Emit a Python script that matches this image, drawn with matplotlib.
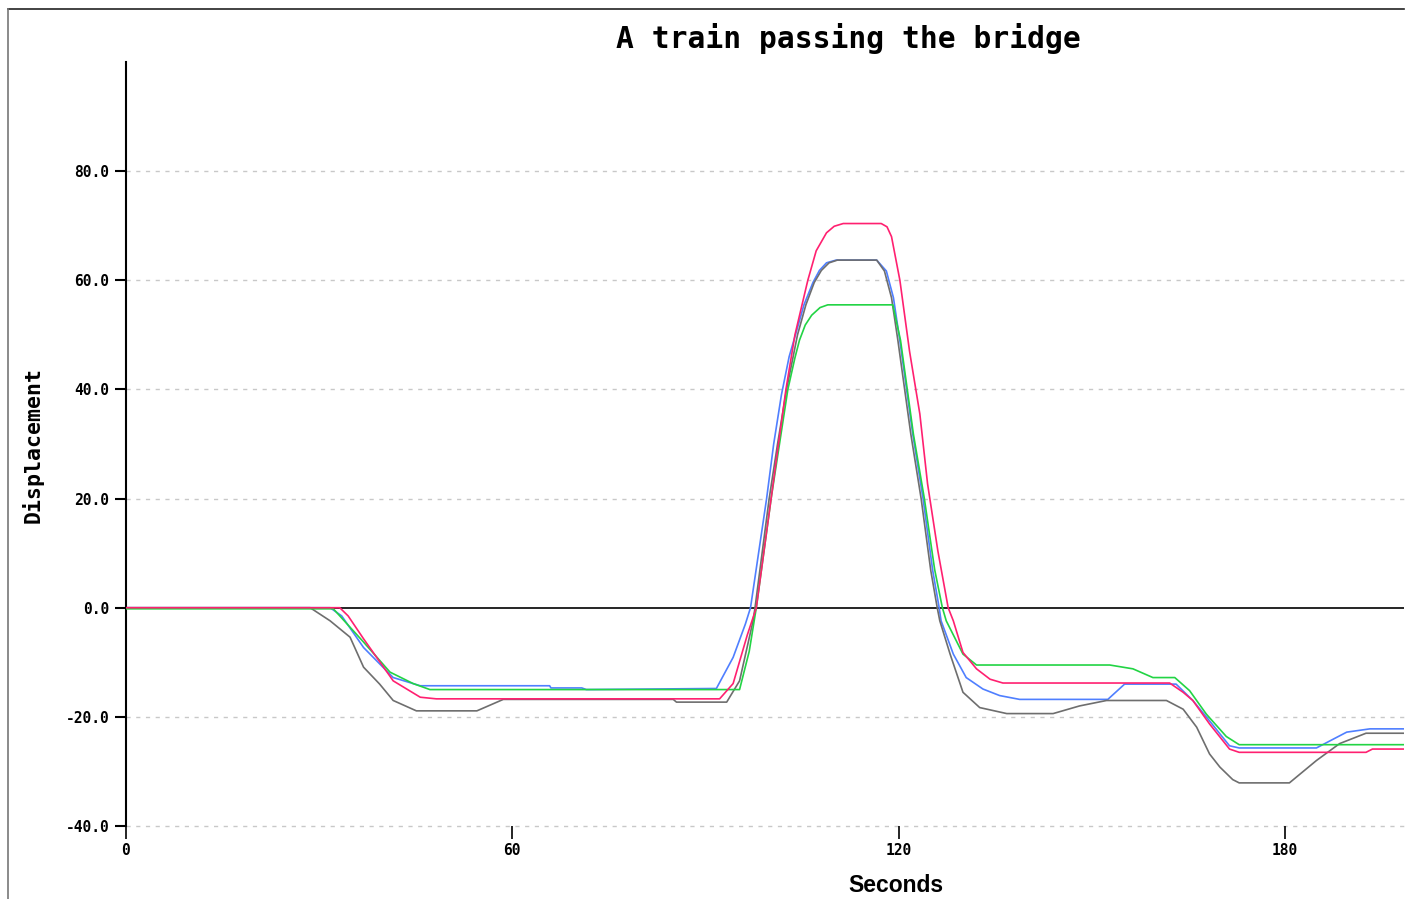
import numpy as np
import matplotlib.pyplot as plt
from matplotlib.lines import Line2D

# breakpoints (seconds, displacement)
blue_t = [0, 31.7, 33.5, 36.9, 41.5, 45.7, 65.8, 66.0, 70.8, 71.5, 91.7, 94.3, 96.2, 97.0,
          99.5, 100.6, 101.8, 103.0, 104.1, 105.3, 106.7, 107.7, 108.8, 110.3, 116.6, 118.1,
          119.2, 120.2, 122.2, 123.8, 125.3, 126.3, 126.6, 128.5, 130.5, 133.1, 135.7, 138.8,
          152.5, 155.1, 163.1, 165.7, 167.8, 169.9, 171.4, 172.9, 184.9, 187.0, 189.6, 193.2,
          198.5]
blue_v = [0, 0, -1.5, -7.3, -12.8, -14.3, -14.3, -14.7, -14.7, -15.0, -14.8, -9.1, -3.0, 0,
          20, 30, 39, 46, 50.5, 55.5, 59.6, 61.8, 63.2, 63.7, 63.7, 61.7,
          56.8, 48.9, 31.8, 20, 6.8, 0, -2.4, -8.5, -12.8, -14.9, -16.1, -16.8,
          -16.8, -14.0, -14.0, -17.0, -20.0, -23.1, -25.3, -25.7, -25.7, -24.4, -22.8, -22.2,
          -22.2]

gray_t = [0, 28.6, 31.7, 34.8, 36.9, 39.4, 41.5, 45.1, 54.5, 58.6, 85.0, 85.5, 93.3, 95.3,
          97.4, 97.7, 99.9, 101.2, 102.6, 104.3, 105.6, 106.9, 108.0, 109.2, 110.5, 116.6,
          117.8, 118.9, 119.9, 121.9, 123.5, 125.0, 126.0, 126.4, 128.0, 130.0, 132.6, 136.8,
          144.0, 148.1, 152.3, 161.6, 164.2, 166.3, 168.3, 169.9, 171.9, 172.9, 180.7, 184.9,
          188.5, 192.6, 198.5]
gray_v = [0, 0, -2.4, -5.4, -10.9, -14.0, -17.0, -18.9, -18.9, -16.8, -16.8, -17.3, -17.3, -13.4,
          -2.4, 0, 20, 30, 40, 50, 55.5, 59.6, 61.8, 63.2, 63.7, 63.7,
          61.7, 56.8, 48.9, 31.8, 20, 6.8, 0, -2.4, -8.5, -15.5, -18.3, -19.4,
          -19.4, -18.0, -17.0, -17.0, -18.6, -21.9, -26.8, -29.2, -31.5, -32.1, -32.1, -28.0,
          -24.9, -23.0, -23.0]

green_t = [0, 32.2, 36.9, 41.0, 44.6, 47.2, 95.3, 96.8, 97.9, 100.2, 102.8, 103.9, 104.6,
           105.5, 106.5, 107.8, 109.0, 119.1, 120.3, 122.3, 124.0, 125.6, 126.8, 127.4,
           130.0, 132.1, 152.8, 156.4, 159.5, 162.9, 165.2, 167.8, 170.9, 172.9, 198.5]
green_v = [-0.2, -0.2, -6.3, -11.8, -13.9, -15.0, -15.0, -8.0, 0, 20, 40, 45.8, 49,
           51.8, 53.6, 55.0, 55.5, 55.5, 49.0, 31.8, 20, 7.0, 0, -2.4,
           -8.5, -10.5, -10.5, -11.2, -12.8, -12.8, -15.2, -19.5, -23.6, -25.1, -25.1]

pink_t = [0, 33.2, 34.5, 36.9, 41.5, 45.7, 48.2, 92.2, 94.3, 96.5, 97.9, 100.2, 102.5, 103.9,
          105.9, 107.2, 108.8, 110.0, 111.4, 117.3, 118.2, 118.9, 120.2, 121.7, 123.3, 124.5,
          126.1, 127.7, 128.5, 130.0, 132.1, 134.2, 136.2, 162.1, 164.2, 165.7, 168.3, 171.4,
          172.9, 192.6, 193.6, 198.5]
pink_v = [0, 0, -1.5, -5.7, -13.4, -16.4, -16.7, -16.7, -13.9, -5.0, 0, 20, 40, 50,
          60, 65.4, 68.7, 69.9, 70.4, 70.4, 69.8, 68.0, 60, 47, 35.5, 22.7,
          10.4, 0, -2.4, -8.2, -11.2, -13.1, -13.8, -13.8, -15.5, -17.0, -21.3, -25.9,
          -26.5, -26.5, -25.9, -25.9]

x_ticks = [0, 60, 120, 180]
y_ticks = [-40, -20, 0, 20, 40, 60, 80]

W, H = 1410, 899
fig = plt.figure(figsize=(W / 100, H / 100), dpi=100)
ax = fig.add_axes([126 / W, 73 / H, (1404 - 126) / W, (826 - 62) / H])

mono = "DejaVu Sans Mono"

# grid + zero line
for y in y_ticks:
    if y == 0:
        ax.axhline(y, color="black", lw=1.2, zorder=1)
    else:
        ax.axhline(y, color="#c8c8c8", lw=1.0, ls=(0, (3, 4)), zorder=1, clip_on=False)

ax.plot(blue_t, blue_v, color="#4f7fff", lw=1.2, zorder=2)
ax.plot(gray_t, gray_v, color="#6e6e6e", lw=1.2, zorder=3)
ax.plot(green_t, green_v, color="#22d444", lw=1.2, zorder=4)
ax.plot(pink_t, pink_v, color="#ff2070", lw=1.2, zorder=5)

ax.set_xlim(0, 198.5)
ax.set_ylim(-40, 100)

for s in ["top", "right", "bottom"]:
    ax.spines[s].set_visible(False)
ax.spines["left"].set_linewidth(1.5)

ax.set_xticks(x_ticks)
ax.set_xticklabels([str(v) for v in x_ticks], fontfamily=mono, fontsize=10.5, fontweight="bold")
ax.set_yticks(y_ticks)
ax.set_yticklabels(["%.1f" % v for v in y_ticks], fontfamily=mono, fontsize=10.5, fontweight="bold")
ax.tick_params(axis="x", length=9, width=1.2, pad=3)
ax.tick_params(axis="y", length=8, width=1.5, pad=4)

fig.text(848 / W, 1 - 39 / H, "A train passing the bridge", fontfamily=mono,
         fontsize=21.3, fontweight="bold", ha="center", va="center")
fig.text(896 / W, 1 - 885 / H, "Seconds", family=["Liberation Sans", "DejaVu Sans"],
         fontsize=16.5, fontweight="bold", ha="center", va="center")
fig.text(33 / W, 1 - 445 / H, "Displacement", fontfamily=mono, fontsize=15.5,
         fontweight="bold", rotation=90, ha="center", va="center")

# outer frame (top and left edges only are visible)
fig.add_artist(Line2D([8 / W, 1404 / W], [1 - 9 / H, 1 - 9 / H], color="#222222", lw=1.2))
fig.add_artist(Line2D([8 / W, 8 / W], [1 - 9 / H, 0], color="#777777", lw=1.2))

fig.savefig("out.png", dpi=100)
